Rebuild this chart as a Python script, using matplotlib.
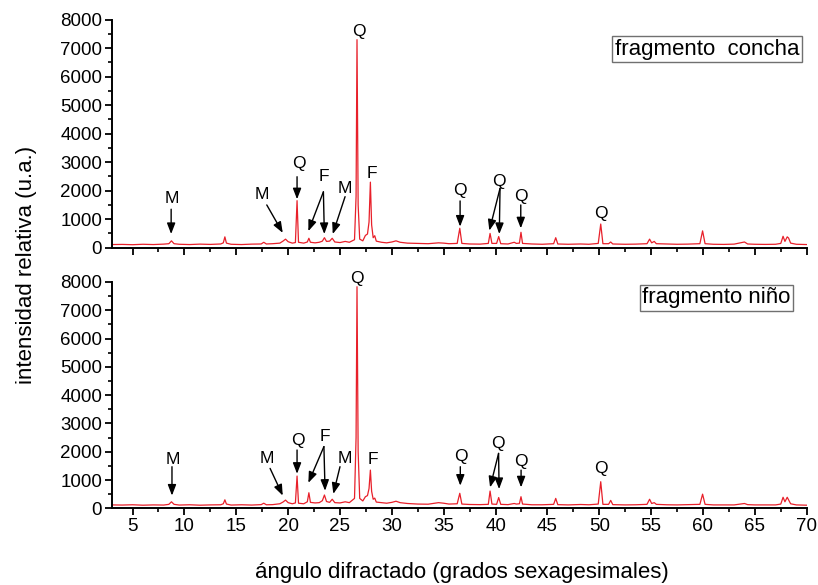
import numpy as np
import matplotlib
matplotlib.use('Agg')
import matplotlib.pyplot as plt
from matplotlib.ticker import MultipleLocator

plt.rcParams['font.family'] = ['Liberation Sans', 'DejaVu Sans']

angulo = [3.0, 4.0, 5.0, 6.0, 7.0, 8.0, 8.5, 8.75, 9.0, 9.5,
          10.5, 11.5, 12.5, 13.5, 13.75, 13.9, 14.05, 14.5, 15.5, 16.5,
          17.4, 17.65, 17.9, 18.5, 19.2, 19.5, 19.75, 20.0, 20.4, 20.7,
          20.86, 21.0, 21.5, 21.85, 22.0, 22.15, 22.6, 23.0, 23.3, 23.5,
          23.7, 24.0, 24.25, 24.5, 25.0, 25.5, 25.9, 26.4, 26.55, 26.64,
          26.75, 26.9, 27.2, 27.45, 27.65, 27.8, 27.93, 28.05, 28.2, 28.35,
          28.5, 29.0, 29.5, 30.0, 30.4, 30.8, 31.5, 32.5, 33.5, 34.5,
          35.0, 35.5, 36.3, 36.55, 36.75, 37.5, 38.5, 39.3, 39.47, 39.65,
          40.1, 40.3, 40.5, 41.2, 41.8, 42.0, 42.3, 42.45, 42.6, 43.5,
          44.5, 45.6, 45.8, 46.0, 47.0, 48.2, 49.0, 49.9, 50.14, 50.35,
          50.9, 51.1, 51.3, 52.5, 53.5, 54.6, 54.85, 55.05, 55.3, 55.5,
          56.5, 57.5, 58.5, 59.7, 59.96, 60.2, 61.0, 62.0, 63.0, 64.0,
          64.3, 65.0, 66.0, 67.0, 67.5, 67.72, 67.9, 68.12, 68.25, 68.45,
          69.0, 70.0]

concha = [110, 115, 105, 120, 110, 125, 140, 240, 140, 120,
          110, 125, 115, 130, 170, 380, 160, 120, 110, 125,
          130, 190, 130, 140, 160, 230, 300, 210, 160, 180,
          1650, 190, 160, 200, 330, 190, 170, 190, 230, 350,
          220, 230, 330, 200, 180, 220, 190, 280, 1800, 7300,
          1500, 300, 240, 430, 480, 900, 2300, 800, 350, 420,
          230, 190, 170, 200, 240, 190, 160, 150, 140, 170,
          160, 140, 150, 680, 150, 130, 125, 150, 500, 150,
          150, 390, 140, 130, 190, 150, 160, 540, 150, 130,
          120, 140, 350, 130, 120, 130, 120, 150, 830, 140,
          140, 200, 130, 120, 125, 140, 300, 170, 220, 140,
          130, 120, 125, 140, 590, 140, 120, 115, 125, 200,
          130, 120, 115, 120, 150, 400, 220, 380, 340, 160,
          120, 110]

nino = [120, 115, 125, 110, 120, 115, 140, 230, 140, 115,
        125, 110, 120, 125, 160, 300, 150, 115, 125, 115,
        130, 180, 125, 130, 160, 220, 290, 200, 160, 190,
        1140, 180, 160, 230, 550, 210, 190, 200, 270, 470,
        240, 210, 320, 200, 190, 230, 200, 350, 2500, 7830,
        2000, 350, 260, 410, 450, 700, 1350, 600, 320, 360,
        220, 200, 180, 210, 250, 200, 170, 150, 145, 200,
        180, 150, 160, 530, 150, 135, 130, 140, 610, 150,
        140, 380, 140, 130, 170, 150, 160, 410, 150, 125,
        125, 140, 350, 130, 120, 135, 125, 150, 940, 140,
        140, 280, 130, 120, 125, 140, 320, 170, 200, 140,
        125, 120, 130, 140, 500, 140, 120, 120, 120, 170,
        130, 120, 120, 120, 150, 390, 230, 390, 300, 160,
        120, 110]

# etiquetas de fases: (letra, x texto, y texto, [(x inicio, y inicio, x punta, y punta), ...])
marcas_concha = [
    ('M', 8.75, 1710, [(8.72, 1350, 8.72, 480)]),
    ('M', 17.46, 1850, [(17.94, 1500, 19.48, 520)]),
    ('Q', 21.0, 2960, [(20.86, 2490, 20.86, 1700)]),
    ('F', 23.46, 2490, [(23.4, 1960, 21.95, 580), (23.4, 1960, 23.49, 480)]),
    ('M', 25.42, 2080, [(25.49, 1790, 24.3, 480)]),
    ('Q', 26.85, 7580, []),
    ('F', 28.06, 2600, []),
    ('Q', 36.58, 2000, [(36.58, 1640, 36.58, 740)]),
    ('Q', 40.31, 2340, [(40.43, 2080, 39.4, 600), (40.43, 2080, 40.36, 480)]),
    ('Q', 42.43, 1810, [(42.43, 1500, 42.43, 680)]),
    ('Q', 50.14, 1210, []),
]

marcas_nino = [
    ('M', 8.88, 1730, [(8.8, 1470, 8.8, 450)]),
    ('M', 17.94, 1770, [(18.26, 1410, 19.48, 450)]),
    ('Q', 20.95, 2410, [(20.86, 2060, 20.86, 1220)]),
    ('F', 23.5, 2540, [(23.45, 2180, 21.95, 900), (23.45, 2180, 23.56, 620)]),
    ('M', 25.49, 1770, [(25.0, 1470, 24.36, 510)]),
    ('Q', 26.62, 8130, []),
    ('F', 28.16, 1730, []),
    ('Q', 36.67, 1820, [(36.6, 1470, 36.6, 800)]),
    ('Q', 40.2, 2300, [(40.29, 1940, 39.47, 740), (40.29, 1940, 40.34, 680)]),
    ('Q', 42.46, 1650, [(42.46, 1350, 42.46, 740)]),
    ('Q', 50.17, 1410, []),
]

fig = plt.figure(figsize=(8.18, 5.85), dpi=100)
ax1 = fig.add_axes([0.1367, 0.5766, 0.8495, 0.3897])
ax2 = fig.add_axes([0.1367, 0.1311, 0.8495, 0.3870])

paneles = [(ax1, concha, marcas_concha, 'fragmento  concha', 60.4, 6965),
           (ax2, nino, marcas_nino, 'fragmento niño', 61.3, 7440)]

for ax, datos, marcas, nombre, bx, by in paneles:
    ax.plot(angulo, datos, color='#e8202a', lw=0.9)
    ax.set_xlim(3, 70)
    ax.set_ylim(0, 8000)
    for s in ['top', 'right']:
        ax.spines[s].set_visible(False)
    for s in ['left', 'bottom']:
        ax.spines[s].set_linewidth(1.4)
    ax.xaxis.set_major_locator(MultipleLocator(5))
    ax.xaxis.set_minor_locator(MultipleLocator(2.5))
    ax.yaxis.set_major_locator(MultipleLocator(1000))
    ax.yaxis.set_minor_locator(MultipleLocator(500))
    ax.tick_params(which='major', direction='out', length=5, width=1.3, labelsize=13.5, pad=2)
    ax.tick_params(which='minor', direction='out', length=3, width=1.2)

    for letra, tx, ty, flechas in marcas:
        ax.text(tx, ty, letra, ha='center', va='center', fontsize=12.5, clip_on=False)
        for x0, y0, x1, y1 in flechas:
            ax.annotate('', xy=(x1, y1), xytext=(x0, y0),
                        arrowprops=dict(arrowstyle='-|>,head_length=0.65,head_width=0.25',
                                        color='black', lw=1,
                                        mutation_scale=10, shrinkA=0, shrinkB=0))

    ax.text(bx, by, nombre, ha='center', va='center', fontsize=16,
            bbox=dict(boxstyle='square,pad=0.12', fc='white', ec='#707070', lw=1))

ax1.tick_params(labelbottom=False)

fig.text(0.033, 0.547, 'intensidad relativa (u.a.)', rotation=90, ha='center', va='center', fontsize=16)
fig.text(0.565, 0.022, 'ángulo difractado (grados sexagesimales)', ha='center', va='center', fontsize=16)

fig.savefig('out.png', dpi=100)
